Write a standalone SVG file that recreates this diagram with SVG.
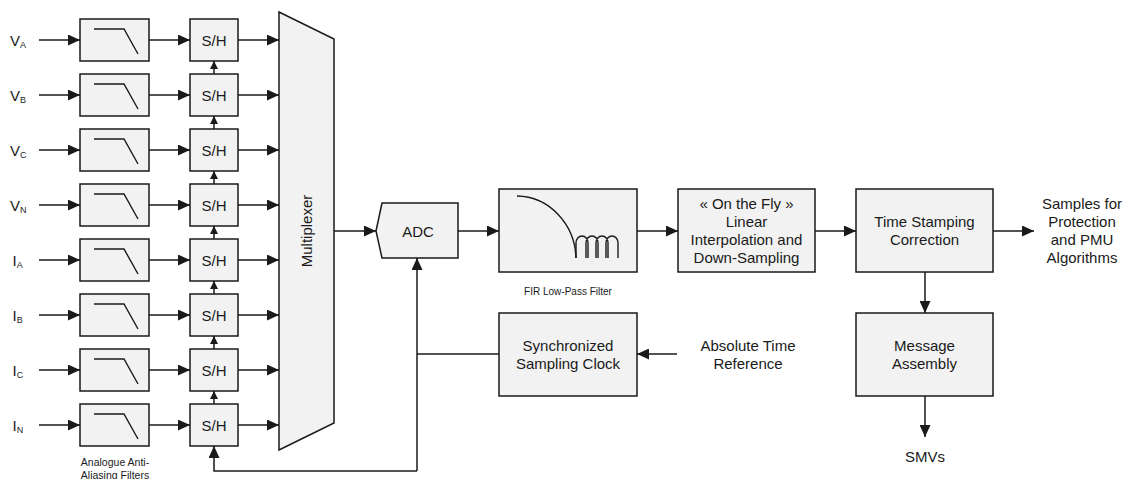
<svg xmlns="http://www.w3.org/2000/svg" width="1127" height="479" viewBox="0 0 1127 479">
<style>
text{font-family:"Liberation Sans",Arial,sans-serif;font-size:15px;fill:#1a1a1a}
.c{text-anchor:middle}
.sm{font-size:10px}
.sub{font-size:9px}
.box{fill:#f2f2f2;stroke:#1a1a1a;stroke-width:1.5}
.icon{fill:none;stroke:#1a1a1a;stroke-width:1.4}
.ln{fill:none;stroke:#1a1a1a;stroke-width:1.5}
</style>
<defs>
<marker id="ah" viewBox="0 0 12 11" refX="12" refY="5.5" markerWidth="12" markerHeight="11" markerUnits="userSpaceOnUse" orient="auto"><path d="M0,0 L12,5.5 L0,11 Z" fill="#1a1a1a"/></marker>
<marker id="as" viewBox="0 0 8 8" refX="8" refY="4" markerWidth="8" markerHeight="8" markerUnits="userSpaceOnUse" orient="auto"><path d="M0,0 L8,4 L0,8 Z" fill="#1a1a1a"/></marker>
</defs>

<g id="inputs">
<text x="10" y="46">V<tspan class="sub" dy="1.5">A</tspan></text>
<text x="10" y="101">V<tspan class="sub" dy="1.5">B</tspan></text>
<text x="10" y="156">V<tspan class="sub" dy="1.5">C</tspan></text>
<text x="10" y="211">V<tspan class="sub" dy="1.5">N</tspan></text>
<text x="12.5" y="266">I<tspan class="sub" dy="1.5">A</tspan></text>
<text x="12.5" y="321">I<tspan class="sub" dy="1.5">B</tspan></text>
<text x="12.5" y="376">I<tspan class="sub" dy="1.5">C</tspan></text>
<text x="12.5" y="431">I<tspan class="sub" dy="1.5">N</tspan></text>
</g>

<g id="filter-va"><rect class="box" x="80" y="19" width="69" height="42"/><path class="icon" d="M94,29 H124 L138,54"/></g>
<g id="filter-vb"><rect class="box" x="80" y="74" width="69" height="42"/><path class="icon" d="M94,84 H124 L138,109"/></g>
<g id="filter-vc"><rect class="box" x="80" y="129" width="69" height="42"/><path class="icon" d="M94,139 H124 L138,164"/></g>
<g id="filter-vn"><rect class="box" x="80" y="184" width="69" height="42"/><path class="icon" d="M94,194 H124 L138,219"/></g>
<g id="filter-ia"><rect class="box" x="80" y="239" width="69" height="42"/><path class="icon" d="M94,249 H124 L138,274"/></g>
<g id="filter-ib"><rect class="box" x="80" y="294" width="69" height="42"/><path class="icon" d="M94,304 H124 L138,329"/></g>
<g id="filter-ic"><rect class="box" x="80" y="349" width="69" height="42"/><path class="icon" d="M94,359 H124 L138,384"/></g>
<g id="filter-in"><rect class="box" x="80" y="404" width="69" height="42"/><path class="icon" d="M94,414 H124 L138,439"/></g>
<g id="filter-label"><text class="c" x="115" y="466" style="font-size:10.5px">Analogue Anti-</text><text class="c" x="115" y="479" style="font-size:10.5px">Aliasing Filters</text></g>

<g id="sh-va"><rect class="box" x="190" y="19" width="48" height="42"/><text class="c" x="214" y="45.5">S/H</text></g>
<g id="sh-vb"><rect class="box" x="190" y="74" width="48" height="42"/><text class="c" x="214" y="100.5">S/H</text></g>
<g id="sh-vc"><rect class="box" x="190" y="129" width="48" height="42"/><text class="c" x="214" y="155.5">S/H</text></g>
<g id="sh-vn"><rect class="box" x="190" y="184" width="48" height="42"/><text class="c" x="214" y="210.5">S/H</text></g>
<g id="sh-ia"><rect class="box" x="190" y="239" width="48" height="42"/><text class="c" x="214" y="265.5">S/H</text></g>
<g id="sh-ib"><rect class="box" x="190" y="294" width="48" height="42"/><text class="c" x="214" y="320.5">S/H</text></g>
<g id="sh-ic"><rect class="box" x="190" y="349" width="48" height="42"/><text class="c" x="214" y="375.5">S/H</text></g>
<g id="sh-in"><rect class="box" x="190" y="404" width="48" height="42"/><text class="c" x="214" y="430.5">S/H</text></g>

<g id="multiplexer"><polygon class="box" points="279,12 334,39 334,423 279,450"/><text class="c" transform="translate(312,231) rotate(-90)">Multiplexer</text></g>

<g id="adc"><polygon class="box" points="376,231 382,203 458,203 458,258 382,258"/><text class="c" x="418" y="236.5">ADC</text></g>

<g id="fir"><rect class="box" x="499" y="189" width="138" height="83"/>
<path class="icon" d="M517,196 A60,64 0 0 1 576,258"/>
<path class="icon" d="M576,258 V243 A6,7 0 0 1 588,243 V258 M586,258 V243 A6,7 0 0 1 598,243 V258 M596,258 V243 A6,7 0 0 1 608,243 V258 M606,258 V243 A6,7 0 0 1 618,243 V258"/>
<text class="c sm" x="568" y="295">FIR Low-Pass Filter</text></g>

<g id="interp"><rect class="box" x="678" y="189" width="137" height="83"/>
<text class="c" x="746.5" y="209">« On the Fly »</text><text class="c" x="746.5" y="227">Linear</text><text class="c" x="746.5" y="245">Interpolation and</text><text class="c" x="746.5" y="263">Down-Sampling</text></g>

<g id="timestamp"><rect class="box" x="856" y="189" width="137" height="83"/>
<text class="c" x="924.5" y="227">Time Stamping</text><text class="c" x="924.5" y="245">Correction</text></g>

<g id="output-samples"><text class="c" x="1082" y="209">Samples for</text><text class="c" x="1082" y="227">Protection</text><text class="c" x="1082" y="245">and PMU</text><text class="c" x="1082" y="263">Algorithms</text></g>

<g id="message"><rect class="box" x="856" y="313" width="137" height="83"/>
<text class="c" x="924.5" y="351">Message</text><text class="c" x="924.5" y="369">Assembly</text></g>

<g id="smvs"><text class="c" x="925" y="462">SMVs</text></g>

<g id="clock"><rect class="box" x="499" y="313" width="138" height="83"/>
<text class="c" x="568" y="351">Synchronized</text><text class="c" x="568" y="369">Sampling Clock</text></g>

<g id="abs-time"><text class="c" x="748" y="351">Absolute Time</text><text class="c" x="748" y="369">Reference</text></g>

<g id="connectors">
<path class="ln" marker-end="url(#ah)" d="M39,40 H80"/>
<path class="ln" marker-end="url(#ah)" d="M39,95 H80"/>
<path class="ln" marker-end="url(#ah)" d="M39,150 H80"/>
<path class="ln" marker-end="url(#ah)" d="M39,205 H80"/>
<path class="ln" marker-end="url(#ah)" d="M39,260 H80"/>
<path class="ln" marker-end="url(#ah)" d="M39,315 H80"/>
<path class="ln" marker-end="url(#ah)" d="M39,370 H80"/>
<path class="ln" marker-end="url(#ah)" d="M39,425 H80"/>
<path class="ln" marker-end="url(#ah)" d="M149,40 H190"/>
<path class="ln" marker-end="url(#ah)" d="M149,95 H190"/>
<path class="ln" marker-end="url(#ah)" d="M149,150 H190"/>
<path class="ln" marker-end="url(#ah)" d="M149,205 H190"/>
<path class="ln" marker-end="url(#ah)" d="M149,260 H190"/>
<path class="ln" marker-end="url(#ah)" d="M149,315 H190"/>
<path class="ln" marker-end="url(#ah)" d="M149,370 H190"/>
<path class="ln" marker-end="url(#ah)" d="M149,425 H190"/>
<path class="ln" marker-end="url(#ah)" d="M238,40 H279"/>
<path class="ln" marker-end="url(#ah)" d="M238,95 H279"/>
<path class="ln" marker-end="url(#ah)" d="M238,150 H279"/>
<path class="ln" marker-end="url(#ah)" d="M238,205 H279"/>
<path class="ln" marker-end="url(#ah)" d="M238,260 H279"/>
<path class="ln" marker-end="url(#ah)" d="M238,315 H279"/>
<path class="ln" marker-end="url(#ah)" d="M238,370 H279"/>
<path class="ln" marker-end="url(#ah)" d="M238,425 H279"/>
<path class="ln" marker-end="url(#as)" d="M214,74 V61"/>
<path class="ln" marker-end="url(#as)" d="M214,129 V116"/>
<path class="ln" marker-end="url(#as)" d="M214,184 V171"/>
<path class="ln" marker-end="url(#as)" d="M214,239 V226"/>
<path class="ln" marker-end="url(#as)" d="M214,294 V281"/>
<path class="ln" marker-end="url(#as)" d="M214,349 V336"/>
<path class="ln" marker-end="url(#as)" d="M214,404 V391"/>
<path class="ln" marker-end="url(#ah)" d="M334,231 H376"/>
<path class="ln" marker-end="url(#ah)" d="M458,231 H499"/>
<path class="ln" marker-end="url(#ah)" d="M637,231 H678"/>
<path class="ln" marker-end="url(#ah)" d="M815,231 H856"/>
<path class="ln" marker-end="url(#ah)" d="M993,231 H1034"/>
<path class="ln" marker-end="url(#ah)" d="M925,272 V313"/>
<path class="ln" marker-end="url(#ah)" d="M925,396 V437"/>
<path class="ln" marker-end="url(#ah)" d="M677,354 H637"/>
<path class="ln" d="M499,354 H417"/>
<path class="ln" marker-end="url(#ah)" d="M417,471 V258"/>
<path class="ln" marker-end="url(#ah)" d="M417,471 H214 V446"/>
</g>
</svg>
